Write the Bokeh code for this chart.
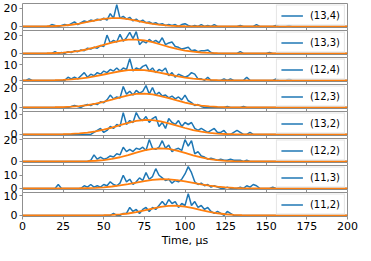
from bokeh.plotting import figure
from bokeh.layouts import column
from bokeh.models import FixedTicker, Range1d, Legend, LegendItem
from bokeh.embed import file_html
from bokeh.resources import INLINE

# ---------------- data ----------------
time_us = list(range(0, 201, 2))        # histogram bin positions, µs
fit_time_us = list(range(0, 201, 5))    # fitted-curve sample positions, µs

labels = ["(13,4)", "(13,3)", "(12,4)", "(12,3)", "(13,2)", "(12,2)", "(11,3)", "(11,2)"]
y_tick_values = [[0, 20], [0, 20], [0, 10], [0, 20], [0, 10], [0, 20], [0, 10], [0, 10]]
x_tick_values = [0, 25, 50, 75, 100, 125, 150, 175, 200]

counts_13_4 = [
    0, 0, 0, 0, 0, 0, 0, 0, 0, 2,
    1, 0, 1, 2, 1, 3, 5, 2, 4, 6,
    5, 7, 6, 8, 7, 9, 7, 14, 9, 24,
    9, 11, 8, 10, 6, 8, 5, 7, 4, 5,
    3, 4, 2, 3, 1, 2, 1, 2, 0, 2,
    3, 1, 0, 1, 0, 2, 0, 1, 0, 2,
    0, 0, 0, 0, 0, 0, 0, 1, 0, 0,
    0, 0, 2, 0, 0, 0, 0, 0, 1, 0,
    0, 0, 1, 0, 0, 0, 0, 0, 0, 0,
    0, 0, 0, 0, 0, 0, 0, 0, 0, 0,
    0]
counts_13_3 = [
    0, 0, 0, 0, 0, 0, 0, 0, 0, 0,
    2, 0, 1, 0, 2, 1, 3, 2, 4, 3,
    6, 5, 7, 6, 9, 8, 21, 12, 15, 13,
    22, 14, 18, 24, 17, 25, 10, 14, 12, 16,
    13, 15, 12, 18, 10, 12, 13, 8, 7, 5,
    6, 7, 3, 4, 2, 3, 3, 4, 1, 0,
    0, 0, 0, 0, 0, 0, 0, 2, 0, 0,
    0, 0, 0, 0, 0, 0, 1, 0, 0, 0,
    0, 0, 0, 0, 0, 0, 0, 0, 0, 0,
    0, 0, 0, 0, 0, 0, 0, 0, 0, 0,
    0]
counts_12_4 = [
    0, 0, 1, 0, 0, 0, 0, 0, 0, 0,
    0, 0, 0, 0, 2, 1, 2, 1, 3, 5,
    2, 4, 3, 5, 4, 6, 5, 7, 6, 8,
    6, 8, 7, 14, 6, 8, 7, 9, 10, 6,
    8, 5, 7, 6, 8, 3, 5, 2, 4, 3,
    2, 3, 5, 4, 1, 1, 0, 2, 0, 0,
    0, 0, 1, 0, 1, 0, 0, 0, 0, 2,
    0, 0, 0, 0, 0, 0, 0, 0, 1, 0,
    0, 0, 1, 0, 0, 0, 0, 0, 0, 0,
    0, 0, 0, 0, 0, 0, 0, 0, 0, 0,
    0]
counts_12_3 = [
    0, 0, 0, 0, 0, 0, 0, 0, 0, 0,
    0, 0, 0, 0, 0, 1, 2, 1, 0, 2,
    3, 2, 4, 3, 6, 5, 8, 13, 9, 11,
    10, 22, 14, 17, 13, 18, 15, 17, 23, 14,
    21, 13, 16, 12, 13, 10, 12, 9, 11, 8,
    13, 7, 5, 2, 3, 1, 0, 0, 0, 0,
    0, 0, 0, 1, 0, 0, 0, 0, 1, 0,
    0, 0, 0, 0, 0, 0, 0, 0, 0, 0,
    0, 0, 0, 0, 0, 0, 0, 0, 0, 0,
    0, 0, 0, 0, 0, 0, 0, 0, 0, 0,
    0]
counts_13_2 = [
    0, 0, 0, 0, 0, 0, 0, 0, 0, 0,
    0, 0, 0, 0, 0, 0, 0, 0, 0, 0,
    0, 0, 1, 2, 3, 1, 2, 4, 3, 5,
    4, 11, 5, 7, 6, 11, 8, 7, 9, 6,
    8, 9, 4, 6, 3, 8, 6, 5, 7, 4,
    6, 5, 6, 3, 2, 3, 2, 1, 2, 3,
    1, 1, 2, 0, 0, 1, 2, 1, 0, 0,
    1, 0, 0, 0, 0, 0, 0, 0, 0, 0,
    0, 0, 0, 0, 0, 0, 0, 0, 0, 0,
    0, 0, 0, 0, 0, 0, 0, 0, 0, 0,
    0]
counts_12_2 = [
    0, 0, 0, 0, 0, 0, 0, 0, 0, 0,
    0, 0, 0, 0, 0, 0, 0, 0, 0, 0,
    0, 1, 6, 2, 4, 2, 3, 5, 4, 7,
    6, 13, 9, 11, 9, 12, 11, 13, 10, 20,
    12, 11, 13, 19, 12, 15, 9, 11, 12, 10,
    20, 14, 19, 7, 9, 5, 4, 2, 3, 2,
    1, 2, 1, 1, 2, 1, 1, 1, 0, 1,
    0, 0, 0, 0, 0, 0, 0, 0, 0, 0,
    0, 0, 0, 0, 0, 0, 0, 0, 0, 0,
    0, 0, 0, 0, 0, 0, 0, 0, 0, 0,
    0]
counts_11_3 = [
    0, 0, 0, 0, 0, 0, 0, 0, 0, 0,
    0, 3, 0, 0, 0, 0, 0, 0, 0, 2,
    1, 3, 1, 2, 1, 3, 2, 5, 3, 2,
    4, 10, 5, 7, 3, 5, 8, 6, 12, 7,
    9, 15, 10, 8, 6, 7, 4, 6, 5, 7,
    11, 16.6, 12, 5, 3, 4, 2, 3, 1, 2,
    1, 0, 0, 1, 0, 0, 0, 1, 0, 2,
    1, 3, 2, 0, 0, 0, 0, 1, 0, 0,
    0, 0, 0, 0, 0, 0, 0, 0, 0, 0,
    0, 0, 0, 0, 0, 0, 0, 0, 0, 0,
    0]
counts_11_2 = [
    0, 0, 0, 0, 0, 0, 0, 0, 0, 0,
    0, 0, 0, 0, 0, 0, 0, 0, 0, 0,
    0, 0, 0, 0, 0, 0, 0, 0, 1, 0,
    0, 1, 1, 4, 2, 3, 1, 3, 4, 2,
    4, 3, 5, 7, 5, 8, 6, 7, 4, 6,
    5, 11, 5, 7, 4, 5, 3, 4, 2, 1,
    2, 1, 0, 2, 1, 0, 0, 0, 0, 0,
    0, 0, 0, 0, 0, 0, 0, 0, 0, 0,
    0, 0, 0, 0, 0, 0, 0, 0, 0, 0,
    0, 0, 0, 0, 0, 0, 0, 0, 0, 0,
    0]

fit_13_4 = [
    0, 0.01, 0.05, 0.18, 0.44, 0.96, 1.84, 3.17, 4.9, 6.75,
    8.34, 9.2, 9.11, 8.06, 6.39, 4.53, 2.87, 1.63, 0.83, 0.38,
    0.15, 0.05, 0.01, 0, 0, 0, 0, 0, 0, 0,
    0, 0, 0, 0, 0, 0, 0, 0, 0, 0,
    0]
fit_13_3 = [
    0.01, 0.04, 0.09, 0.21, 0.46, 0.92, 1.72, 2.98, 4.77, 7.08,
    9.7, 12.3, 14.5, 15.8, 15.9, 14.8, 12.8, 10.2, 7.58, 5.2,
    3.3, 1.93, 1.05, 0.53, 0.25, 0.11, 0.04, 0.02, 0, 0,
    0, 0, 0, 0, 0, 0, 0, 0, 0, 0,
    0]
fit_12_4 = [
    0, 0.01, 0.04, 0.08, 0.18, 0.35, 0.66, 1.13, 1.83, 2.73,
    3.79, 4.89, 5.88, 6.56, 6.8, 6.56, 5.88, 4.89, 3.79, 2.73,
    1.83, 1.13, 0.66, 0.35, 0.18, 0.08, 0.04, 0.01, 0, 0,
    0, 0, 0, 0, 0, 0, 0, 0, 0, 0,
    0]
fit_12_3 = [
    0, 0.01, 0.03, 0.07, 0.16, 0.36, 0.73, 1.39, 2.44, 3.96,
    5.96, 8.31, 10.7, 12.8, 14.2, 14.5, 13.7, 12.0, 9.77, 7.34,
    5.11, 3.29, 1.96, 1.08, 0.55, 0.26, 0.11, 0.05, 0.02, 0.01,
    0, 0, 0, 0, 0, 0, 0, 0, 0, 0,
    0]
fit_13_2 = [
    0, 0, 0.01, 0.02, 0.05, 0.11, 0.24, 0.48, 0.88, 1.5,
    2.37, 3.46, 4.67, 5.85, 6.77, 7.26, 7.2, 6.61, 5.62, 4.43,
    3.23, 2.18, 1.36, 0.79, 0.42, 0.21, 0.1, 0.04, 0.02, 0.01,
    0, 0, 0, 0, 0, 0, 0, 0, 0, 0,
    0]
fit_12_2 = [
    0, 0, 0, 0, 0, 0.01, 0.04, 0.12, 0.28, 0.62,
    1.24, 2.28, 3.81, 5.78, 7.99, 10.05, 11.5, 12.0, 11.4, 9.83,
    7.72, 5.53, 3.6, 2.13, 1.15, 0.57, 0.25, 0.1, 0.04, 0.01,
    0, 0, 0, 0, 0, 0, 0, 0, 0, 0,
    0]
fit_11_3 = [
    0, 0, 0, 0, 0.01, 0.02, 0.05, 0.11, 0.23, 0.46,
    0.85, 1.44, 2.27, 3.32, 4.48, 5.6, 6.49, 6.96, 6.9, 6.34,
    5.39, 4.25, 3.09, 2.09, 1.3, 0.75, 0.4, 0.2, 0.09, 0.04,
    0.02, 0.01, 0, 0, 0, 0, 0, 0, 0, 0,
    0]
fit_11_2 = [
    0, 0, 0, 0, 0, 0, 0, 0, 0, 0.04,
    0.1, 0.24, 0.51, 0.96, 1.63, 2.5, 3.45, 4.29, 4.81, 4.86,
    4.42, 3.63, 2.68, 1.79, 1.08, 0.58, 0.28, 0.12, 0.05, 0.02,
    0.01, 0, 0, 0, 0, 0, 0, 0, 0, 0,
    0]

all_counts = [counts_13_4, counts_13_3, counts_12_4, counts_12_3,
              counts_13_2, counts_12_2, counts_11_3, counts_11_2]
all_fits = [fit_13_4, fit_13_3, fit_12_4, fit_12_3,
            fit_13_2, fit_12_2, fit_11_3, fit_11_2]

# ---------------- style ----------------
BLUE = "#1f77b4"
ORANGE = "#ff7f0e"
FONT = "DejaVu Sans"
SPINE = "#8f8f8f"
FRAME_W = 325
FRAME_H = 24
PAD = 8          # transparent border above/below each frame (lets labels overflow)
GAP = 3          # visible gap between two frames

figs = []
n = len(labels)
for i in range(n):
    counts = all_counts[i]
    fit = all_fits[i]
    m = max(counts)
    first = (i == 0)
    last = (i == n - 1)
    p = figure(frame_width=FRAME_W, frame_height=FRAME_H,
               output_backend="svg", toolbar_location=None,
               x_range=Range1d(0, 200), y_range=Range1d(-0.05 * m, 1.05 * m),
               min_border_left=19, min_border_right=11,
               min_border_top=3 if first else PAD,
               min_border_bottom=0 if last else PAD,
               margin=(0, 0, 0, 0) if first else (-(2 * PAD - GAP), 0, 0, 0))
    p.background_fill_color = "white"
    p.border_fill_color = None
    p.outline_line_color = SPINE
    p.outline_line_width = 1
    p.grid.visible = False

    r_data = p.line(time_us, counts, line_color=BLUE, line_width=1.5)
    p.line(fit_time_us, fit, line_color=ORANGE, line_width=1.8)

    # y axis
    ya = p.yaxis[0]
    ya.ticker = FixedTicker(ticks=y_tick_values[i])
    ya.axis_line_color = None
    ya.major_tick_line_color = SPINE
    ya.major_tick_out = 3
    ya.major_tick_in = 0
    ya.minor_tick_out = 0
    ya.minor_tick_in = 0
    ya.major_label_standoff = 2
    ya.major_label_text_font = FONT
    ya.major_label_text_font_size = "11px"
    ya.major_label_text_color = "black"

    # x axis
    xa = p.xaxis[0]
    xa.ticker = FixedTicker(ticks=x_tick_values)
    xa.axis_line_color = None
    xa.major_tick_line_color = SPINE
    xa.major_tick_out = 3
    xa.major_tick_in = 0
    xa.minor_tick_out = 0
    xa.minor_tick_in = 0
    if last:
        xa.major_label_standoff = 2
        xa.major_label_text_font = FONT
        xa.major_label_text_font_size = "11px"
        xa.major_label_text_color = "black"
        xa.axis_label = "Time, μs"
        xa.axis_label_standoff = 1
        xa.axis_label_text_font = FONT
        xa.axis_label_text_font_size = "11px"
        xa.axis_label_text_font_style = "normal"
        xa.axis_label_text_color = "black"
    else:
        xa.major_label_standoff = 0
        xa.major_label_text_font_size = "0px"
        xa.major_label_text_color = None

    legend = Legend(items=[LegendItem(label=labels[i], renderers=[r_data])],
                    location="right")
    legend.label_text_font = FONT
    legend.label_text_font_size = "10px"
    legend.label_text_color = "black"
    legend.label_height = 10
    legend.label_standoff = 7
    legend.glyph_width = 22
    legend.glyph_height = 10
    legend.padding = 4
    legend.spacing = 0
    legend.margin = 2
    legend.border_line_color = "#cccccc"
    legend.border_line_width = 1
    legend.background_fill_color = "white"
    legend.background_fill_alpha = 0.8
    p.add_layout(legend)

    figs.append(p)

layout = column(*figs)

open("out.html", "w", encoding="utf-8").write(file_html(layout, INLINE, title="Time histograms"))
